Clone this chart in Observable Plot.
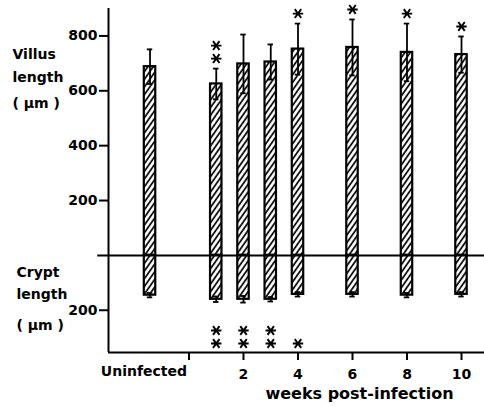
<!DOCTYPE html>
<html><head>
<meta charset="utf-8">
<script src="https://cdn.jsdelivr.net/npm/d3@7"></script>
<script src="https://cdn.jsdelivr.net/npm/@observablehq/plot@0.6"></script>
<style>body{margin:0;background:#fff}</style>
</head><body><div id="chart"></div>
<script>
// ---- data ----
const categories = ["Uninfected", "1", "2", "3", "4", "6", "8", "10"];
const weekPos    = [-1.43, 1, 2, 3, 4, 6, 8, 10];
const villusMean = [688, 625, 698, 705, 752, 758, 740, 732];
const villusSD   = [63, 56, 107, 64, 93, 102, 105, 66];
const cryptMean  = [145, 160, 160, 160, 142, 142, 145, 142];
const cryptSD    = [8, 10, 12, 8, 8, 8, 8, 8];
const villusStars = [0, 2, 0, 0, 1, 1, 1, 1];
const cryptStars  = [0, 2, 2, 2, 1, 0, 0, 0];
const yTicks = [800, 600, 400, 200, -200];
const xTicks = [0, 2, 4, 6, 8, 10];

const rows = categories.map((c, i) => ({
  cat: c, pos: weekPos[i],
  vm: villusMean[i], vs: villusSD[i],
  cm: -cryptMean[i], cs: cryptSD[i],
  vstar: villusStars[i], cstar: cryptStars[i]
}));

const xDomain = [-2.954, 10.844];
const yDomain = [-354, 900];
const halfW = 0.21, capW = 0.1;

const star = {
  draw(ctx, size) {
    const r = Math.sqrt(size / Math.PI);
    ctx.moveTo(-r, 0); ctx.lineTo(r, 0);
    const a = r * 0.62, b = r * 0.85;
    ctx.moveTo(-a, -b); ctx.lineTo(a, b);
    ctx.moveTo(-a, b); ctx.lineTo(a, -b);
  }
};
const starOpts = {symbol: star, r: 5.2, fill: "none", stroke: "black", strokeWidth: 1.9};

const font = "DejaVu Sans";

const plot = Plot.plot({
  width: 484, height: 407,
  marginLeft: 108, marginRight: 0, marginTop: 8, marginBottom: 55,
  x: {domain: xDomain, axis: null},
  y: {domain: yDomain, axis: null},
  style: {fontFamily: font, fontSize: "14px", fontWeight: "bold", color: "black", background: "white"},
  marks: [
    // bars
    Plot.rectY(rows, {x1: d => d.pos - halfW, x2: d => d.pos + halfW, y1: 0, y2: "vm",
      fill: "url(#hatch)", stroke: "black", strokeWidth: 2.2}),
    Plot.rectY(rows, {x1: d => d.pos - halfW, x2: d => d.pos + halfW, y1: 0, y2: "cm",
      fill: "url(#hatch)", stroke: "black", strokeWidth: 2.2}),
    // error bars villus
    Plot.ruleX(rows, {x: "pos", y1: d => d.vm - d.vs, y2: d => d.vm + d.vs, strokeWidth: 1.8}),
    Plot.ruleY(rows, {y: d => d.vm + d.vs, x1: d => d.pos - capW, x2: d => d.pos + capW, strokeWidth: 1.8}),
    Plot.ruleY(rows, {y: d => d.vm - d.vs, x1: d => d.pos - capW, x2: d => d.pos + capW, strokeWidth: 1.8}),
    // error bars crypt
    Plot.ruleX(rows, {x: "pos", y1: d => d.cm - d.cs, y2: d => d.cm + d.cs, strokeWidth: 1.8}),
    Plot.ruleY(rows, {y: d => d.cm - d.cs, x1: d => d.pos - capW, x2: d => d.pos + capW, strokeWidth: 1.8}),
    Plot.ruleY(rows, {y: d => d.cm + d.cs, x1: d => d.pos - capW, x2: d => d.pos + capW, strokeWidth: 1.8}),
    // zero line and frame
    Plot.ruleY([0], {x1: -3.35, x2: xDomain[1], strokeWidth: 2}),
    Plot.ruleX([xDomain[0]], {strokeWidth: 2}),
    Plot.ruleY([yDomain[0]], {x1: xDomain[0], x2: xDomain[1], strokeWidth: 2}),
    // axes
    Plot.axisY({ticks: yTicks, tickFormat: d => Math.abs(d), tickSize: 9, tickPadding: 2, strokeWidth: 2, fontSize: 14, label: null}),
    Plot.axisX({ticks: xTicks, tickFormat: d => d === 0 ? "" : String(d), tickSize: 8, tickPadding: 9, strokeWidth: 2, fontSize: 14, label: null}),
    Plot.text(["Uninfected"], {text: d => d, x: 0, frameAnchor: "bottom", textAnchor: "end", dx: -2, dy: 23, fontSize: 14}),
    Plot.text(["weeks post-infection"], {text: d => d, frameAnchor: "bottom", dx: 63, dy: 46, fontSize: 16}),
    // left titles
    Plot.text(["Villus"], {text: d => d, frameAnchor: "top-left", textAnchor: "start", dx: -96, dy: 41, fontSize: 14}),
    Plot.text(["length"], {text: d => d, frameAnchor: "top-left", textAnchor: "start", dx: -96, dy: 64, fontSize: 14}),
    Plot.text(["( µm )"], {text: d => d, frameAnchor: "top-left", textAnchor: "start", dx: -96, dy: 90, fontSize: 14}),
    Plot.text(["Crypt"], {text: d => d, frameAnchor: "top-left", textAnchor: "start", dx: -92, dy: 259, fontSize: 14}),
    Plot.text(["length"], {text: d => d, frameAnchor: "top-left", textAnchor: "start", dx: -92, dy: 281, fontSize: 14}),
    Plot.text(["( µm )"], {text: d => d, frameAnchor: "top-left", textAnchor: "start", dx: -92, dy: 312, fontSize: 14}),
    // significance stars
    Plot.dot(rows.filter(d => d.vstar >= 1), {x: "pos", y: d => d.vm + d.vs, dy: -10, ...starOpts}),
    Plot.dot(rows.filter(d => d.vstar >= 2), {x: "pos", y: d => d.vm + d.vs, dy: -23, ...starOpts}),
    Plot.dot(rows.filter(d => d.cstar >= 1), {x: "pos", frameAnchor: "bottom", dy: -9, ...starOpts}),
    Plot.dot(rows.filter(d => d.cstar >= 2), {x: "pos", frameAnchor: "bottom", dy: -22, ...starOpts})
  ]
});

d3.select(plot).insert("defs", ":first-child").html(
  `<pattern id="hatch" patternUnits="userSpaceOnUse" width="4.4" height="10" patternTransform="rotate(35)">
     <rect width="4.4" height="10" fill="white"/>
     <line x1="1" y1="0" x2="1" y2="10" stroke="black" stroke-width="1.7"/>
   </pattern>`);

document.getElementById("chart").appendChild(plot);
</script>
</body></html>
